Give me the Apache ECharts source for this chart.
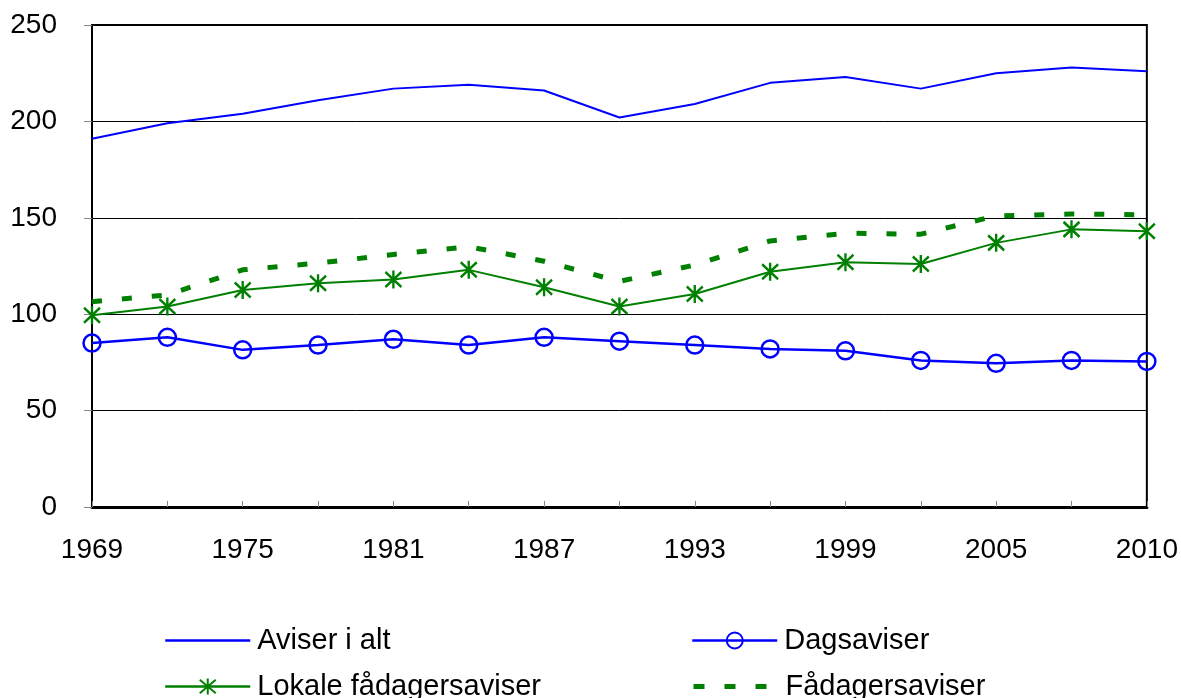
<!DOCTYPE html>
<html>
<head>
<meta charset="utf-8">
<script src="https://cdn.jsdelivr.net/npm/echarts@6.0.0/dist/echarts.min.js"></script>
<style>
    html, body { margin: 0; padding: 0; background: #fff; }
    #chart { width: 1181px; height: 698px; }
</style>
</head>
<body>
<div id="chart"></div>
<script>
// år (hver tredje år, siste punkt 2010)
var years = ['1969', '1972', '1975', '1978', '1981', '1984', '1987', '1990', '1993', '1996', '1999', '2002', '2005', '2008', '2010'];
var yTicks = [0, 50, 100, 150, 200, 250];

var aviserIAlt = [191, 199, 204, 211, 217, 219, 216, 202, 209, 220, 223, 217, 225, 228, 226];
var dagsaviser = [85, 88, 81.5, 84, 87, 84, 88, 86, 84, 82, 81, 76, 74.5, 76, 75.5];
var lokaleFadager = [99.5, 104, 112.5, 116, 118, 123, 114, 104, 110.5, 122, 127, 126, 137, 144, 143];
var fadager = [106.5, 110, 123, 126.5, 131, 135, 127.5, 117, 125.5, 138, 142, 141.5, 151, 152, 151.5];

var blue = '#0000ff';
var green = '#008000';
var fontName = 'Liberation Sans, Arial, sans-serif';
var asterisk = 'path://M0,1L10,11M10,1L0,11M5,0L5,12';
var none = 'rgba(0,0,0,0)';

function legendAt(name, left, top, lineStyle) {
    return {
        data: [name],
        left: left,
        top: top,
        padding: 0,
        itemWidth: 85,
        itemHeight: 20,
        lineStyle: lineStyle,
        textStyle: { fontFamily: fontName, fontSize: 29, color: '#000', padding: [0, 0, 0, 2] }
    };
}

var myChart = echarts.init(document.getElementById('chart'));

var options = {
    animation: false,
    backgroundColor: '#fff',
    grid: {
        left: 92,
        right: 34,
        top: 25,
        bottom: 191,
        show: true,
        borderColor: '#000',
        borderWidth: 2
    },
    legend: [
        legendAt('Aviser i alt', 164, 626, { width: 2.5 }),
        legendAt('Dagsaviser', 691, 626, { width: 2.5 }),
        legendAt('Lokale fådagersaviser', 164, 672, { width: 2.5 }),
        legendAt('Fådagersaviser', 691, 672, { width: 5, type: [11, 20] })
    ],
    xAxis: {
        type: 'category',
        boundaryGap: false,
        data: years,
        axisLine: { lineStyle: { color: '#000', width: 3 } },
        axisTick: { inside: true, length: 6, interval: 0, lineStyle: { color: '#888', width: 1 } },
        axisLabel: { interval: 1, margin: 29, fontFamily: fontName, fontSize: 28, color: '#000' },
        splitLine: { show: false }
    },
    yAxis: {
        type: 'value',
        min: yTicks[0],
        max: yTicks[yTicks.length - 1],
        interval: yTicks[1] - yTicks[0],
        axisLine: { show: true, lineStyle: { color: '#000', width: 2 } },
        axisTick: { show: true, inside: false, length: 8, lineStyle: { color: '#888', width: 1 } },
        axisLabel: { margin: 35, fontFamily: fontName, fontSize: 28, color: '#000' },
        splitLine: { lineStyle: { color: '#000', width: 1 } }
    },
    series: [{
        name: 'Aviser i alt',
        type: 'line',
        data: aviserIAlt,
        symbol: 'none',
        lineStyle: { color: blue, width: 2 },
        itemStyle: { color: none }
    }, {
        name: 'Dagsaviser',
        type: 'line',
        data: dagsaviser,
        symbol: 'circle',
        symbolSize: 17,
        lineStyle: { color: blue, width: 2.5 },
        itemStyle: { color: none, borderColor: blue, borderWidth: 2.5 }
    }, {
        name: 'Lokale fådagersaviser',
        type: 'line',
        data: lokaleFadager,
        symbol: asterisk,
        symbolSize: [16, 18],
        lineStyle: { color: green, width: 2 },
        itemStyle: { color: none, borderColor: green, borderWidth: 2.5 }
    }, {
        name: 'Fådagersaviser',
        type: 'line',
        data: fadager,
        symbol: 'none',
        lineStyle: { color: green, width: 5, type: [10, 20] },
        itemStyle: { color: none }
    }]
};

myChart.setOption(options);
</script>
</body>
</html>
